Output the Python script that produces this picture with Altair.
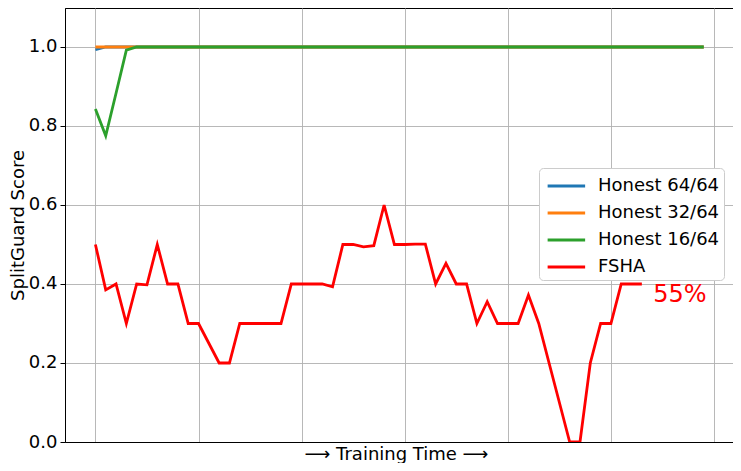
import altair as alt
import pandas as pd

# ---- data ----
series_names = ["Honest 64/64", "Honest 32/64", "Honest 16/64", "FSHA"]
series_colors = ["#1f77b4", "#ff7f0e", "#2ca02c", "#ff0000"]

honest_64 = [0.993] + [1.0] * 59
honest_32 = [1.0] * 60
honest_16 = [0.843, 0.775, 0.883, 0.992] + [1.0] * 56
fsha = [0.5, 0.385, 0.4, 0.3, 0.4, 0.398, 0.5, 0.4, 0.4, 0.3,
        0.3, 0.25, 0.2, 0.2, 0.3, 0.3, 0.3, 0.3, 0.3, 0.4,
        0.4, 0.4, 0.4, 0.393, 0.5, 0.5, 0.494, 0.497, 0.6, 0.5,
        0.5, 0.501, 0.501, 0.4, 0.452, 0.4, 0.4, 0.3, 0.355, 0.3,
        0.3, 0.3, 0.372, 0.3, 0.2, 0.1, 0.0, 0.0, 0.2, 0.3,
        0.3, 0.4, 0.4, 0.4]

annotation_text = ["55%"]
annotation_x = [54.1]
annotation_y = [0.372]

y_ticks = [0.0, 0.2, 0.4, 0.6, 0.8, 1.0]
x_grid = [0, 10, 20, 30, 40, 50, 60]

rows = []
for name, vals in zip(series_names, [honest_64, honest_32, honest_16, fsha]):
    for i, v in enumerate(vals):
        rows.append({"step": i, "score": v, "series": name})
df = pd.DataFrame(rows)
ann = pd.DataFrame({"x": annotation_x, "y": annotation_y, "t": annotation_text})

FONT = "DejaVu Sans"

x_enc = alt.X("step:Q",
              scale=alt.Scale(domain=[-2.95, 61.84], nice=False, zero=False),
              axis=alt.Axis(values=x_grid, labels=False, ticks=False,
                            title="\u27f6 Training Time \u27f6",
                            titleFontSize=18, titleFont=FONT, titleFontWeight="normal",
                            titleColor="black", titlePadding=3, titleX=331,
                            domainColor="black", gridColor="#b0b0b0", gridWidth=0.9))
y_enc = alt.Y("score:Q",
              scale=alt.Scale(domain=[0, 1.0987], nice=False, zero=False),
              axis=alt.Axis(values=y_ticks, format=".1f", title="SplitGuard Score",
                            titleFontSize=18, titleFont=FONT, titleFontWeight="normal",
                            titleColor="black", titlePadding=1,
                            labelFontSize=18, labelFont=FONT, labelColor="black",
                            labelPadding=3, tickSize=5, tickColor="black",
                            domainColor="black", gridColor="#b0b0b0", gridWidth=0.9))
color_enc = alt.Color("series:N",
                      scale=alt.Scale(domain=series_names, range=series_colors),
                      legend=alt.Legend(title=None, orient="none", legendX=474, legendY=160,
                                        symbolType="M-0.75,0H2.25", symbolSize=625,
                                        symbolStrokeWidth=2.8, labelFontSize=18,
                                        labelFont=FONT, labelColor="black",
                                        labelOffset=27, rowPadding=4,
                                        padding=4, strokeColor="#cccccc",
                                        fillColor="white", cornerRadius=4))

layers = []
for name in series_names:
    layers.append(
        alt.Chart(df).transform_filter(alt.datum.series == name)
        .mark_line(strokeWidth=2.8, clip=True)
        .encode(x=x_enc, y=y_enc, color=color_enc)
    )

text = alt.Chart(ann).mark_text(align="left", baseline="middle", fontSize=24,
                                font=FONT, color="#ff0000").encode(
    x=alt.X("x:Q"), y=alt.Y("y:Q"), text="t:N")

chart = alt.layer(*layers, text).properties(
    width=668, height=434,
    autosize=alt.AutoSizeParams(type="none"),
    padding={"left": 57, "top": 0, "right": 0, "bottom": 21},
    background="white",
).configure_view(stroke="black", strokeWidth=1)

chart.save("out.html", embed_options={"renderer": "svg", "actions": False})
